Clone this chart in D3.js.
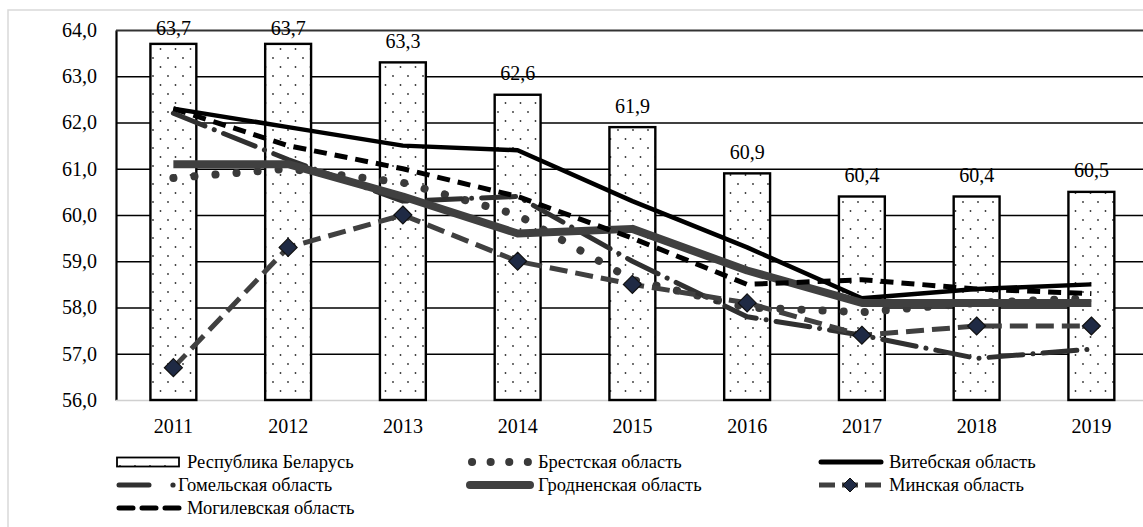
<!DOCTYPE html>
<html>
<head>
<meta charset="utf-8">
<script src="https://cdn.jsdelivr.net/npm/d3@7"></script>
<style>
  body { margin: 0; background: #fff; }
  svg { display: block; font-family: "Liberation Serif", "Times New Roman", serif; }
</style>
</head>
<body>
<div class="chart"></div>
<script>
// Data
const years = ["2011", "2012", "2013", "2014", "2015", "2016", "2017", "2018", "2019"];
const belarus = [63.7, 63.7, 63.3, 62.6, 61.9, 60.9, 60.4, 60.4, 60.5];
const brest = [60.8, 61.0, 60.7, 60.0, 58.6, 58.0, 57.9, 58.1, 58.2];
const vitebsk = [62.3, 61.9, 61.5, 61.4, 60.3, 59.3, 58.2, 58.4, 58.5];
const gomel = [62.2, 61.2, 60.3, 60.4, 59.0, 57.8, 57.4, 56.9, 57.1];
const grodno = [61.1, 61.1, 60.4, 59.6, 59.7, 58.8, 58.1, 58.1, 58.1];
const minsk = [56.7, 59.3, 60.0, 59.0, 58.5, 58.1, 57.4, 57.6, 57.6];
const mogilev = [62.3, 61.5, 61.0, 60.4, 59.5, 58.5, 58.6, 58.4, 58.3];
const yTicks = [56, 57, 58, 59, 60, 61, 62, 63, 64];
const names = ["Республика Беларусь", "Брестская область", "Витебская область",
  "Гомельская область", "Гродненская область", "Минская область", "Могилевская область"];

const width = 1143, height = 527;
const plotLeft = 116, plotTop = 30, plotBottom = 400;
const step = 114.75;

const comma = d3.formatLocale({ decimal: ",", thousands: " ", grouping: [3], currency: ["", ""] }).format(".1f");

const svg = d3.select(".chart")
  .append("svg")
  .attr("width", width)
  .attr("height", height);

// dotted fill of the bars
const defs = svg.append("defs");
const pat = defs.append("pattern")
  .attr("id", "dots")
  .attr("patternUnits", "userSpaceOnUse")
  .attr("width", 15).attr("height", 18);
pat.append("rect").attr("width", 15).attr("height", 18).attr("fill", "#fff");
pat.append("circle").attr("cx", 3).attr("cy", 4).attr("r", 0.9).attr("fill", "#333");
pat.append("circle").attr("cx", 10.5).attr("cy", 13).attr("r", 0.9).attr("fill", "#333");

// light frame of the chart area
svg.append("rect")
  .attr("x", 8).attr("y", 10)
  .attr("width", 1160).attr("height", 540)
  .attr("fill", "none")
  .attr("stroke", "#d9d9d9")
  .attr("stroke-width", 1.5);

const x = d3.scaleBand()
  .domain(years)
  .range([plotLeft, plotLeft + step * years.length])
  .paddingInner(0.6)
  .paddingOuter(0.3);

const y = d3.scaleLinear()
  .domain([56, 64])
  .range([plotBottom, plotTop]);

const cx = (d, i) => x(years[i]) + x.bandwidth() / 2;

// y axis with gridlines
const yAxis = svg.append("g")
  .attr("transform", `translate(${plotLeft},0)`)
  .call(d3.axisLeft(y)
    .tickValues(yTicks)
    .tickSize(-(width - plotLeft))
    .tickSizeOuter(0)
    .tickPadding(19)
    .tickFormat(comma));

yAxis.select(".domain").attr("stroke", "#000").attr("stroke-width", 2.2);
yAxis.selectAll(".tick line")
  .attr("stroke", d => d === 56 ? "#d0d0d0" : (d === 64 ? "#333" : "#000"))
  .attr("stroke-width", d => d === 64 ? 2.2 : 1.6);
yAxis.selectAll(".tick text")
  .attr("fill", "#000")
  .style("font-size", "20px")
  .style("font-family", "Liberation Serif, serif");

// x axis labels
const xAxis = svg.append("g")
  .attr("transform", `translate(0,${plotBottom})`)
  .call(d3.axisBottom(x).tickSize(0).tickPadding(19));
xAxis.select(".domain").remove();
xAxis.selectAll(".tick text")
  .attr("fill", "#000")
  .style("font-size", "20px")
  .style("font-family", "Liberation Serif, serif");

// bars: Республика Беларусь
svg.selectAll(".bar")
  .data(belarus)
  .enter()
  .append("rect")
  .attr("class", "bar")
  .attr("x", (d, i) => x(years[i]))
  .attr("y", d => y(d))
  .attr("width", x.bandwidth())
  .attr("height", d => plotBottom - y(d))
  .attr("fill", "url(#dots)")
  .attr("stroke", "#000")
  .attr("stroke-width", 2.4);

svg.selectAll(".bar-label")
  .data(belarus)
  .enter()
  .append("text")
  .attr("class", "bar-label")
  .attr("x", cx)
  .attr("y", d => Math.max(y(d) - 14.5, 35))
  .attr("text-anchor", "middle")
  .style("font-size", "20px")
  .text(d => comma(d));

// region lines
const series = [
  { name: names[1], values: brest, color: "#3a3a3a", width: 8, dash: "0.1,21", cap: "round" },
  { name: names[2], values: vitebsk, color: "#000", width: 4.5, dash: null, cap: "butt" },
  { name: names[3], values: gomel, color: "#303030", width: 5, dash: "34,10,0.1,10", cap: "round" },
  { name: names[4], values: grodno, color: "#404040", width: 8, dash: null, cap: "butt" },
  { name: names[5], values: minsk, color: "#404040", width: 5, dash: "18,8", cap: "butt" },
  { name: names[6], values: mogilev, color: "#000", width: 5, dash: "13,8", cap: "butt" }
];

const line = d3.line()
  .x(cx)
  .y(d => y(d));

series.forEach(s => {
  svg.append("path")
    .datum(s.values)
    .attr("fill", "none")
    .attr("stroke", s.color)
    .attr("stroke-width", s.width)
    .attr("stroke-dasharray", s.dash)
    .attr("stroke-linecap", s.cap)
    .attr("stroke-linejoin", "round")
    .attr("d", line);

  if (s.name === names[5]) {
    svg.selectAll(".marker")
      .data(s.values)
      .enter()
      .append("path")
      .attr("class", "marker")
      .attr("transform", (d, i) => `translate(${cx(d, i)},${y(d)})`)
      .attr("d", "M0,-9L9,0L0,9L-9,0Z")
      .attr("fill", "#1f2a44")
      .attr("stroke", "#111")
      .attr("stroke-width", 1.2);
  }
});

// legend, three columns
const legend = svg.append("g").attr("class", "legend");
names.forEach((name, i) => {
  const col = i % 3, row = Math.floor(i / 3);
  const x0 = 117 + col * 351, yc = 462 + row * 23;
  const g = legend.append("g").attr("transform", `translate(${x0},${yc})`);
  if (i === 0) {
    g.append("rect").attr("x", 0).attr("y", -4.5).attr("width", 62).attr("height", 9)
      .attr("fill", "url(#dots)").attr("stroke", "#000").attr("stroke-width", 1.8);
  } else if (i === 1) {
    g.append("line").attr("x1", 4).attr("x2", 62).attr("stroke", "#3a3a3a")
      .attr("stroke-width", 8).attr("stroke-linecap", "round").attr("stroke-dasharray", "0.1,18.5");
  } else if (i === 2) {
    g.append("line").attr("x1", 2).attr("x2", 62).attr("stroke", "#000")
      .attr("stroke-width", 5).attr("stroke-linecap", "round");
  } else if (i === 3) {
    g.append("line").attr("x1", 2).attr("x2", 32).attr("stroke", "#303030")
      .attr("stroke-width", 5).attr("stroke-linecap", "round");
    g.append("circle").attr("cx", 56).attr("r", 2.6).attr("fill", "#303030");
  } else if (i === 4) {
    g.append("line").attr("x1", 2).attr("x2", 62).attr("stroke", "#404040")
      .attr("stroke-width", 8).attr("stroke-linecap", "round");
  } else if (i === 5) {
    g.append("line").attr("x1", 0).attr("x2", 62).attr("stroke", "#404040")
      .attr("stroke-width", 5).attr("stroke-dasharray", "16,7,16,7,16");
    g.append("path").attr("d", "M31,-7L38,0L31,7L24,0Z")
      .attr("fill", "#1f2a44").attr("stroke", "#111").attr("stroke-width", 1);
  } else {
    g.append("line").attr("x1", 2).attr("x2", 62).attr("stroke", "#000")
      .attr("stroke-width", 5).attr("stroke-linecap", "round").attr("stroke-dasharray", "14,9");
  }
  g.append("text")
    .attr("x", i === 3 ? 61 : 70)
    .attr("dy", "0.33em")
    .style("font-size", "18.5px")
    .text(name);
});
</script>
</body>
</html>
